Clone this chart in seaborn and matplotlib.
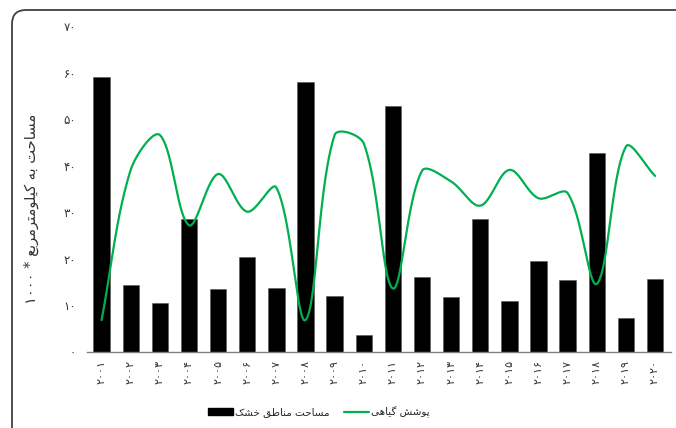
import matplotlib
matplotlib.use("Agg")
import matplotlib.pyplot as plt
import matplotlib.patches as mpatches
import matplotlib.transforms as mtransforms
from matplotlib.lines import Line2D
import numpy as np
import seaborn as sns

years = list(range(2001, 2021))
dry_area = [59.1, 14.3, 10.4, 28.5, 13.5, 20.4, 13.8, 58.0, 12.0, 3.6,
            52.9, 16.1, 11.8, 28.5, 10.9, 19.4, 15.5, 42.7, 7.2, 15.6]
vegetation = [6.8, 39.1, 46.6, 27.2, 38.2, 30.1, 35.3, 6.8, 46.6, 44.8,
              13.6, 38.9, 36.6, 31.4, 39.1, 33.0, 34.1, 14.6, 44.1, 37.8]
y_ticks = [0, 10, 20, 30, 40, 50, 60, 70]
y_label = "مساحت به کیلومترمربع * ۱۰۰۰"
legend_bar = "مساحت مناطق خشک"
legend_line = "پوشش گیاهی"

# --- minimal persian shaping (matplotlib has no bidi / shaping) ---
FORMS = {
    "ا": (0xFE8D, 0xFE8E), "ر": (0xFEAD, 0xFEAE), "و": (0xFEED, 0xFEEE),
    "ب": (0xFE8F, 0xFE90, 0xFE91, 0xFE92), "ت": (0xFE95, 0xFE96, 0xFE97, 0xFE98),
    "ح": (0xFEA1, 0xFEA2, 0xFEA3, 0xFEA4), "خ": (0xFEA5, 0xFEA6, 0xFEA7, 0xFEA8),
    "س": (0xFEB1, 0xFEB2, 0xFEB3, 0xFEB4), "ش": (0xFEB5, 0xFEB6, 0xFEB7, 0xFEB8),
    "ط": (0xFEC1, 0xFEC2, 0xFEC3, 0xFEC4), "ع": (0xFEC9, 0xFECA, 0xFECB, 0xFECC),
    "ق": (0xFED5, 0xFED6, 0xFED7, 0xFED8), "ل": (0xFEDD, 0xFEDE, 0xFEDF, 0xFEE0),
    "م": (0xFEE1, 0xFEE2, 0xFEE3, 0xFEE4), "ن": (0xFEE5, 0xFEE6, 0xFEE7, 0xFEE8),
    "ه": (0xFEE9, 0xFEEA, 0xFEEB, 0xFEEC), "پ": (0xFB56, 0xFB57, 0xFB58, 0xFB59),
    "ک": (0xFB8E, 0xFB8F, 0xFB90, 0xFB91), "گ": (0xFB92, 0xFB93, 0xFB94, 0xFB95),
    "ی": (0xFBFC, 0xFBFD, 0xFBFE, 0xFBFF),
}


def fa(text):
    out = []
    for i, ch in enumerate(text):
        if ch not in FORMS:
            out.append(ch)
            continue
        prev = text[i - 1] if i > 0 else ""
        nxt = text[i + 1] if i < len(text) - 1 else ""
        jp = prev in FORMS and len(FORMS[prev]) == 4
        jn = len(FORMS[ch]) == 4 and nxt in FORMS
        f = FORMS[ch]
        if jp and jn:
            c = f[3]
        elif jp:
            c = f[1]
        elif jn:
            c = f[2]
        else:
            c = f[0]
        out.append(chr(c))
    s = "".join(out)[::-1]
    # keep digit runs left to right
    res, run = "", ""
    for ch in s:
        if ch.isdigit():
            run += ch
        else:
            res += run[::-1] + ch
            run = ""
    return res + run[::-1]


def fa_num(n):
    return "".join(chr(0x06F0 + int(d)) for d in str(n))


def smooth(yvals, sx=29.2, sy=4.65, n=40):
    # excel-like smoothing: bezier, control length weighted by chord lengths (in pixels)
    P = np.column_stack([np.arange(len(yvals)) * sx, np.array(yvals) * sy])
    N = len(P)
    d = np.linalg.norm(np.diff(P, axis=0), axis=1)
    c_in, c_out = [None] * N, [None] * N
    for i in range(N):
        if i == 0:
            T = P[1] - P[0]
            c_out[i] = P[i] + T / 3
            continue
        if i == N - 1:
            T = P[-1] - P[-2]
            c_in[i] = P[i] - T / 3
            continue
        T = P[i + 1] - P[i - 1]
        dp, dn = d[i - 1], d[i]
        c_in[i] = P[i] - T * dp / (dp + dn) / 3
        c_out[i] = P[i] + T * dn / (dp + dn) / 3
    pts = []
    t = np.linspace(0, 1, n, endpoint=False)[:, None]
    for i in range(N - 1):
        a, b, c, e = P[i], c_out[i], c_in[i + 1], P[i + 1]
        pts.append((1 - t) ** 3 * a + 3 * (1 - t) ** 2 * t * b + 3 * (1 - t) * t ** 2 * c + t ** 3 * e)
    pts.append(P[-1][None, :])
    pts = np.vstack(pts)
    return pts[:, 0] / sx, pts[:, 1] / sy


sns.set_theme(style="white")
plt.rcParams["font.family"] = ["DejaVu Sans"]

fig = plt.figure(figsize=(6.76, 4.28), dpi=100)
ax = fig.add_axes([0.1287, 0.1783, 0.864, 0.7605])

xs = np.arange(len(years))
sns.barplot(x=xs, y=dry_area, color="black", width=0.56, ax=ax,
            saturation=1, native_scale=True, edgecolor="#555555", linewidth=0.4)

cx, cy = smooth(vegetation)
sns.lineplot(x=cx, y=cy, color="#00B050", linewidth=1.6, ax=ax, sort=False)

ax.set_xlim(-0.5, 19.55)
ax.set_ylim(0, 70)
ax.set_yticks(y_ticks)
ax.set_yticklabels([fa_num(v) for v in y_ticks], fontsize=8.5, color="#333333")
ax.set_xticks(xs)
ax.set_xticklabels([fa_num(y) for y in years], rotation=90, fontsize=8, color="#333333")
ax.tick_params(axis="y", length=0, pad=8)
ax.tick_params(axis="x", length=0, pad=6)
for s in ["left", "top", "right"]:
    ax.spines[s].set_visible(False)
ax.spines["bottom"].set_color("#808080")
ax.spines["bottom"].set_linewidth(1)
ax.set_ylabel(fa(y_label), fontsize=10.5, color="#333333")
ax.yaxis.set_label_coords(-0.082, 0.44)
ax.set_xlabel("")

handles = [mpatches.Patch(color="black"),
           Line2D([0], [0], color="#00B050", linewidth=1.6)]
fig.legend(handles, [fa(legend_bar), fa(legend_line)], loc="center",
           bbox_to_anchor=(0.472, 0.037), ncol=2, frameon=False, fontsize=7.5,
           handlelength=2.4, columnspacing=1.4, handletextpad=0.2)

frame = mpatches.FancyBboxPatch((12, -40), 700, 458, boxstyle="round,pad=0,rounding_size=14",
                                transform=mtransforms.IdentityTransform(),
                                facecolor="none", edgecolor="#404040", linewidth=1.3)
fig.patches.append(frame)

fig.savefig("out.png", dpi=100)
